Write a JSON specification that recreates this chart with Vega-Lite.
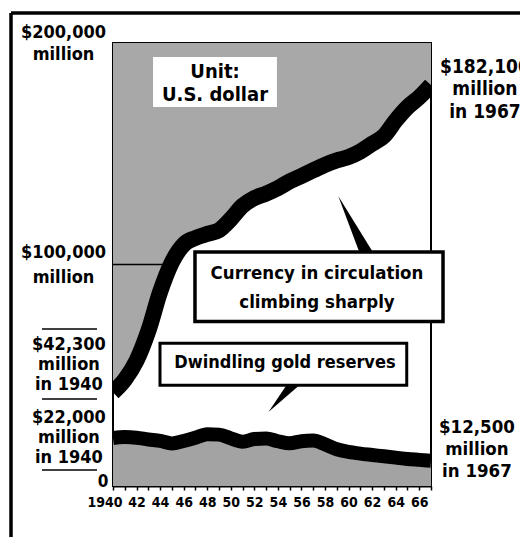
{
  "$schema": "https://vega.github.io/schema/vega-lite/v6.json",
  "autosize": {"type": "none"},
  "padding": {"left": 113, "top": 43, "right": 89, "bottom": 51},
  "width": 318,
  "height": 443,
  "background": "white",
  "config": {
    "view": {"stroke": "black", "strokeWidth": 2}
  },
  "data": {"values": [
    {"year": 1940, "currency": 42300, "gold": 21700},
    {"year": 1941, "currency": 48000, "gold": 22100},
    {"year": 1942, "currency": 56600, "gold": 21800},
    {"year": 1943, "currency": 70000, "gold": 21000},
    {"year": 1944, "currency": 87600, "gold": 20400},
    {"year": 1945, "currency": 101000, "gold": 19200},
    {"year": 1946, "currency": 109000, "gold": 20300},
    {"year": 1947, "currency": 112000, "gold": 21800},
    {"year": 1948, "currency": 113800, "gold": 23400},
    {"year": 1949, "currency": 115500, "gold": 23200},
    {"year": 1950, "currency": 120500, "gold": 21500},
    {"year": 1951, "currency": 126500, "gold": 20000},
    {"year": 1952, "currency": 130000, "gold": 21200},
    {"year": 1953, "currency": 132000, "gold": 21500},
    {"year": 1954, "currency": 134500, "gold": 20200},
    {"year": 1955, "currency": 137500, "gold": 19300},
    {"year": 1956, "currency": 140000, "gold": 20200},
    {"year": 1957, "currency": 142500, "gold": 20500},
    {"year": 1958, "currency": 145000, "gold": 18800},
    {"year": 1959, "currency": 147000, "gold": 16600},
    {"year": 1960, "currency": 148500, "gold": 15400},
    {"year": 1961, "currency": 151000, "gold": 14600},
    {"year": 1962, "currency": 154500, "gold": 14000},
    {"year": 1963, "currency": 158000, "gold": 13400},
    {"year": 1964, "currency": 165000, "gold": 12800},
    {"year": 1965, "currency": 171000, "gold": 12200},
    {"year": 1966, "currency": 175500, "gold": 11800},
    {"year": 1967, "currency": 181000, "gold": 11400}
  ]},
  "encoding": {
    "x": {
      "field": "year", "type": "quantitative",
      "scale": {"domain": [1940, 1967], "nice": false, "zero": false},
      "axis": {
        "values": [1940,1941,1942,1943,1944,1945,1946,1947,1948,1949,1950,1951,1952,1953,1954,1955,1956,1957,1958,1959,1960,1961,1962,1963,1964,1965,1966,1967],
        "labelExpr": "datum.value == 1940 ? '1940' : (datum.value % 2 == 0 ? substring(toString(datum.value), 2, 4) : '')",
        "labelOverlap": false,
        "labelFont": "DejaVu Sans Condensed",
        "labelFontSize": 14,
        "labelFontWeight": "bold",
        "labelColor": "black",
        "labelAlign": {"condition": {"test": "datum.value == 1940", "value": "right"}, "value": "center"},
        "labelOffset": {"condition": {"test": "datum.value == 1940", "value": 9}, "value": 0},
        "labelPadding": 5,
        "tickSize": 4,
        "tickWidth": 1.5,
        "tickColor": "black",
        "domainColor": "black",
        "domainWidth": 2,
        "grid": false,
        "title": null
      }
    },
    "y": {
      "field": "currency", "type": "quantitative",
      "scale": {"domain": [0, 200000], "nice": false},
      "axis": {
        "values": [0],
        "labelExpr": "'0'",
        "labelFont": "DejaVu Sans Condensed",
        "labelFontSize": 17,
        "labelFontWeight": "bold",
        "labelColor": "black",
        "labelBaseline": "alphabetic",
        "labelPadding": 5,
        "ticks": false,
        "domain": false,
        "grid": false,
        "title": null
      }
    }
  },
  "layer": [
    {
      "mark": {"type": "area", "color": "#a8a8a8", "interpolate": "monotone"},
      "encoding": {"y2": {"datum": 200000}}
    },
    {
      "mark": {"type": "area", "color": "#a3a3a3", "interpolate": "monotone"},
      "encoding": {"y": {"field": "gold", "type": "quantitative"}}
    },
    {
      "transform": [{"filter": "datum.year == 1940"}],
      "mark": {"type": "rule", "color": "black", "strokeWidth": 1.5},
      "encoding": {
        "x": {"datum": 1940, "type": "quantitative"},
        "x2": {"datum": 1944.5},
        "y": {"datum": 100000, "type": "quantitative"}
      }
    },
    {
      "mark": {"type": "line", "color": "black", "strokeWidth": 16, "interpolate": "monotone", "clip": true, "strokeCap": "butt"}
    },
    {
      "mark": {"type": "line", "color": "black", "strokeWidth": 14, "interpolate": "monotone", "clip": true, "strokeCap": "butt"},
      "encoding": {"y": {"field": "gold", "type": "quantitative"}}
    },
    {
      "transform": [{"filter": "datum.year == 1940"}],
      "mark": {"type": "point", "shape": "M -0.607 -0.982 L 0.156 1.05 L 0.644 1.05 Z", "filled": true, "size": 3025, "color": "black", "opacity": 1, "strokeWidth": 0},
      "encoding": {
        "x": {"datum": 1960.54, "type": "quantitative"},
        "y": {"datum": 118740, "type": "quantitative"}
      }
    },
    {
      "transform": [{"filter": "datum.year == 1940"}],
      "mark": {"type": "point", "shape": "M -0.97 0.706 L 0.176 -1 L 1.0 -1 Z", "filled": true, "size": 1156, "color": "black", "opacity": 1, "strokeWidth": 0},
      "encoding": {
        "x": {"datum": 1954.6, "type": "quantitative"},
        "y": {"datum": 38830, "type": "quantitative"}
      }
    },
    {
      "transform": [{"filter": "datum.year == 1940"}],
      "mark": {"type": "rect", "fill": "white", "strokeWidth": 0},
      "encoding": {
        "x": {"datum": 1943.4, "type": "quantitative"},
        "x2": {"datum": 1953.92},
        "y": {"datum": 193680, "type": "quantitative"},
        "y2": {"datum": 171100}
      }
    },
    {
      "transform": [{"filter": "datum.year == 1940"}],
      "mark": {"type": "rect", "fill": "white", "stroke": "black", "strokeWidth": 3.5},
      "encoding": {
        "x": {"datum": 1946.96, "type": "quantitative"},
        "x2": {"datum": 1968.02},
        "y": {"datum": 105600, "type": "quantitative"},
        "y2": {"datum": 74270}
      }
    },
    {
      "transform": [{"filter": "datum.year == 1940"}],
      "mark": {"type": "rect", "fill": "white", "stroke": "black", "strokeWidth": 3},
      "encoding": {
        "x": {"datum": 1943.99, "type": "quantitative"},
        "x2": {"datum": 1964.94},
        "y": {"datum": 64470, "type": "quantitative"},
        "y2": {"datum": 45510}
      }
    },
    {
      "transform": [{"filter": "datum.year == 1940"}],
      "mark": {"type": "text", "text": ["Unit:", "U.S. dollar"], "font": "DejaVu Sans Condensed", "fontWeight": "bold", "color": "black", "fontSize": 20, "lineHeight": 23, "align": "center", "baseline": "middle"},
      "encoding": {
        "x": {"datum": 1948.66, "type": "quantitative"},
        "y": {"datum": 186900, "type": "quantitative"}
      }
    },
    {
      "transform": [{"filter": "datum.year == 1940"}],
      "mark": {"type": "text", "text": ["Currency in circulation", "climbing sharply"], "font": "DejaVu Sans Condensed", "fontWeight": "bold", "color": "black", "fontSize": 18.5, "lineHeight": 29, "align": "center", "baseline": "middle"},
      "encoding": {
        "x": {"datum": 1957.32, "type": "quantitative"},
        "y": {"datum": 96160, "type": "quantitative"}
      }
    },
    {
      "transform": [{"filter": "datum.year == 1940"}],
      "mark": {"type": "text", "text": "Dwindling gold reserves", "font": "DejaVu Sans Condensed", "fontWeight": "bold", "color": "black", "fontSize": 18, "align": "center", "baseline": "middle"},
      "encoding": {
        "x": {"datum": 1954.6, "type": "quantitative"},
        "y": {"datum": 55530, "type": "quantitative"}
      }
    },
    {
      "transform": [{"filter": "datum.year == 1940"}],
      "mark": {"type": "text", "text": ["$200,000", "million"], "font": "DejaVu Sans Condensed", "fontWeight": "bold", "color": "black", "fontSize": 18, "lineHeight": 22, "align": "center", "baseline": "middle"},
      "encoding": {
        "x": {"datum": 1935.8, "type": "quantitative"},
        "y": {"datum": 204500, "type": "quantitative"}
      }
    },
    {
      "transform": [{"filter": "datum.year == 1940"}],
      "mark": {"type": "text", "text": ["$100,000", "million"], "font": "DejaVu Sans Condensed", "fontWeight": "bold", "color": "black", "fontSize": 18, "lineHeight": 25, "align": "center", "baseline": "middle"},
      "encoding": {
        "x": {"datum": 1935.8, "type": "quantitative"},
        "y": {"datum": 105200, "type": "quantitative"}
      }
    },
    {
      "transform": [{"filter": "datum.year == 1940"}],
      "mark": {"type": "text", "text": ["$42,300", "million", "in 1940"], "font": "DejaVu Sans Condensed", "fontWeight": "bold", "color": "black", "fontSize": 18, "lineHeight": 20, "align": "center", "baseline": "middle"},
      "encoding": {
        "x": {"datum": 1936.26, "type": "quantitative"},
        "y": {"datum": 63660, "type": "quantitative"}
      }
    },
    {
      "transform": [{"filter": "datum.year == 1940"}],
      "mark": {"type": "text", "text": ["$22,000", "million", "in 1940"], "font": "DejaVu Sans Condensed", "fontWeight": "bold", "color": "black", "fontSize": 18, "lineHeight": 20, "align": "center", "baseline": "middle"},
      "encoding": {
        "x": {"datum": 1936.26, "type": "quantitative"},
        "y": {"datum": 30700, "type": "quantitative"}
      }
    },
    {
      "transform": [{"filter": "datum.year == 1940"}],
      "mark": {"type": "text", "text": ["$182,100", "million", "in 1967"], "font": "DejaVu Sans Condensed", "fontWeight": "bold", "color": "black", "fontSize": 19, "lineHeight": 22.5, "align": "center", "baseline": "middle"},
      "encoding": {
        "x": {"datum": 1971.58, "type": "quantitative"},
        "y": {"datum": 189200, "type": "quantitative"}
      }
    },
    {
      "transform": [{"filter": "datum.year == 1940"}],
      "mark": {"type": "text", "text": ["$12,500", "million", "in 1967"], "font": "DejaVu Sans Condensed", "fontWeight": "bold", "color": "black", "fontSize": 18.5, "lineHeight": 22, "align": "center", "baseline": "middle"},
      "encoding": {
        "x": {"datum": 1970.9, "type": "quantitative"},
        "y": {"datum": 26640, "type": "quantitative"}
      }
    },
    {
      "transform": [{"filter": "datum.year == 1940"}],
      "mark": {"type": "rule", "color": "black", "strokeWidth": 1.5},
      "encoding": {
        "x": {"datum": 1933.97, "type": "quantitative"},
        "x2": {"datum": 1938.64},
        "y": {"datum": 70880, "type": "quantitative"}
      }
    },
    {
      "transform": [{"filter": "datum.year == 1940"}],
      "mark": {"type": "rule", "color": "black", "strokeWidth": 1.5},
      "encoding": {
        "x": {"datum": 1933.97, "type": "quantitative"},
        "x2": {"datum": 1938.64},
        "y": {"datum": 39280, "type": "quantitative"}
      }
    },
    {
      "transform": [{"filter": "datum.year == 1940"}],
      "mark": {"type": "rule", "color": "black", "strokeWidth": 1.5},
      "encoding": {
        "x": {"datum": 1933.97, "type": "quantitative"},
        "x2": {"datum": 1938.64},
        "y": {"datum": 7220, "type": "quantitative"}
      }
    },
    {
      "transform": [{"filter": "datum.year == 1940"}],
      "mark": {"type": "rule", "color": "black", "strokeWidth": 3.5},
      "encoding": {
        "x": {"datum": 1931.34, "type": "quantitative"},
        "x2": {"datum": 1976},
        "y": {"datum": 213540, "type": "quantitative"}
      }
    },
    {
      "transform": [{"filter": "datum.year == 1940"}],
      "mark": {"type": "rule", "color": "black", "strokeWidth": 3.5},
      "encoding": {
        "x": {"datum": 1931.34, "type": "quantitative"},
        "y": {"datum": 213540, "type": "quantitative"},
        "y2": {"datum": -25000}
      }
    }
  ]
}
